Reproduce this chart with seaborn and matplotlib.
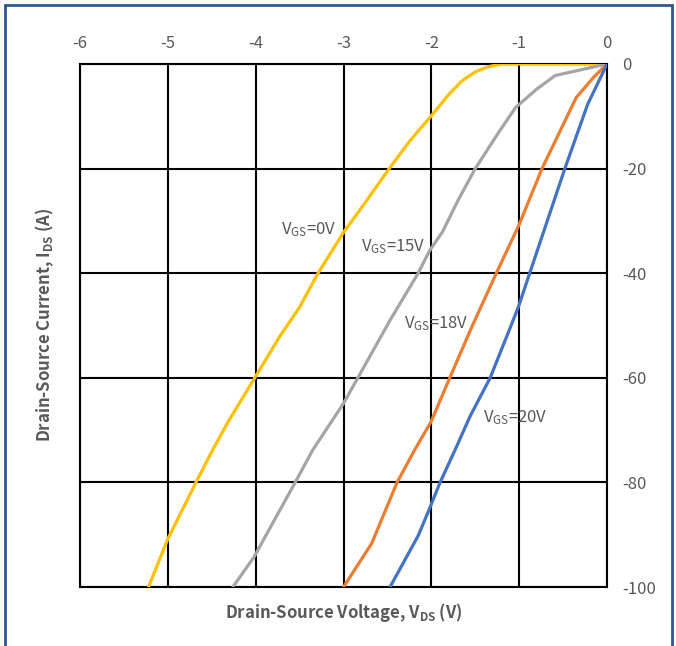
import matplotlib
matplotlib.use("Agg")
import matplotlib.pyplot as plt
import seaborn as sns
import pandas as pd
from matplotlib.patches import Rectangle

# ---- data ----
vgs0_v = [0, -0.8, -1.2, -1.35, -1.5, -1.65, -1.8, -2.0, -2.25, -2.48, -2.74, -3.0, -3.29, -3.5, -3.73, -4.01, -4.31, -4.49, -4.68, -5.0, -5.22]
vgs0_i = [0, 0, 0, -0.5, -1.5, -3.2, -5.8, -9.9, -14.8, -20, -26.2, -32.2, -40, -46.5, -52.2, -60, -68.3, -73.8, -80, -90.8, -100]

vgs15_v = [0, -0.59, -0.8, -1.04, -1.25, -1.5, -1.70, -1.87, -2.02, -2.15, -2.47, -3.0, -3.35, -3.55, -4.02, -4.26]
vgs15_i = [0, -2.2, -4.8, -8.3, -13.5, -20, -26.2, -32, -35.7, -40, -49, -64.9, -73.8, -80, -94.3, -100]

vgs18_v = [0, -0.15, -0.35, -0.74, -1.0, -1.26, -1.54, -1.79, -2.0, -2.19, -2.39, -2.68, -3.0]
vgs18_i = [0, -2.5, -6.4, -20, -30.7, -40, -50.3, -60, -68.3, -73.8, -80, -91.7, -100]

vgs20_v = [0, -0.22, -0.48, -0.72, -0.88, -1.01, -1.13, -1.33, -1.56, -1.73, -1.90, -2.03, -2.15, -2.47]
vgs20_i = [0, -7.7, -20, -32, -40, -46.5, -51.6, -60, -67.4, -73.8, -80, -85.4, -90.2, -100]

series_names = ["VGS=0V", "VGS=15V", "VGS=18V", "VGS=20V"]
series_colors = ["#FFC000", "#A5A5A5", "#ED7D31", "#4472C4"]
x_ticks = [-6, -5, -4, -3, -2, -1, 0]
y_ticks = [0, -20, -40, -60, -80, -100]

labels_text = [r"V$_{\mathregular{GS}}$=0V", r"V$_{\mathregular{GS}}$=15V",
               r"V$_{\mathregular{GS}}$=18V", r"V$_{\mathregular{GS}}$=20V"]
label_pos = [(-3.71, -31.7), (-2.80, -35.0), (-2.31, -49.7), (-1.41, -67.7)]

sns.set_theme(style="white")
plt.rcParams['font.family'] = ['Noto Sans CJK SC', 'DejaVu Sans']
plt.rcParams['mathtext.default'] = 'regular'

fig = plt.figure(figsize=(6.76, 6.46), dpi=100)
ax = fig.add_axes([80/676, 1-587/646, (607-80)/676, (587-64)/646])

data = [(vgs0_v, vgs0_i), (vgs15_v, vgs15_i), (vgs18_v, vgs18_i), (vgs20_v, vgs20_i)]
for (v, i), name, c in zip(data, series_names, series_colors):
    df = pd.DataFrame({"V": v, "I": i})
    sns.lineplot(data=df, x="V", y="I", sort=False, color=c, linewidth=2.3, ax=ax, zorder=3)

ax.set_xlim(-6, 0)
ax.set_ylim(-100, 0)
ax.set_xticks(x_ticks)
ax.set_yticks(y_ticks)
ax.set_xticklabels([str(t) for t in x_ticks])
ax.set_yticklabels([str(t) for t in y_ticks])
ax.xaxis.tick_top()
ax.yaxis.tick_right()
ax.tick_params(axis='x', length=0, pad=9, labelsize=12, labelcolor="#595959")
ax.tick_params(axis='y', length=0, pad=11, labelsize=12, labelcolor="#595959")
ax.grid(True, color="black", linewidth=1.5)
for s in ax.spines.values():
    s.set_color("black")
    s.set_linewidth(1.5)

ax.set_xlabel("")
ax.set_ylabel("")
fig.text((80+607)/2/676, 1-612/646, r"Drain-Source Voltage, V$_{\mathregular{DS}}$ (V)",
         ha="center", va="center", fontsize=12, color="#595959", fontweight="bold")
fig.text(45/676, 1-(64+587)/2/646, r"Drain-Source Current, I$_{\mathregular{DS}}$ (A)",
         ha="center", va="center", rotation=90, fontsize=12, color="#595959", fontweight="bold")

for t, (x, y) in zip(labels_text, label_pos):
    ax.text(x, y, t, ha="left", va="center", fontsize=12, color="#595959", zorder=4)

fig.patches.append(Rectangle((5/676, -0.1), (672-5)/676, 1.1 - 5/646, transform=fig.transFigure,
                             fill=False, edgecolor="#2F5597", linewidth=2, clip_on=False))

fig.savefig("out.png", dpi=100)
